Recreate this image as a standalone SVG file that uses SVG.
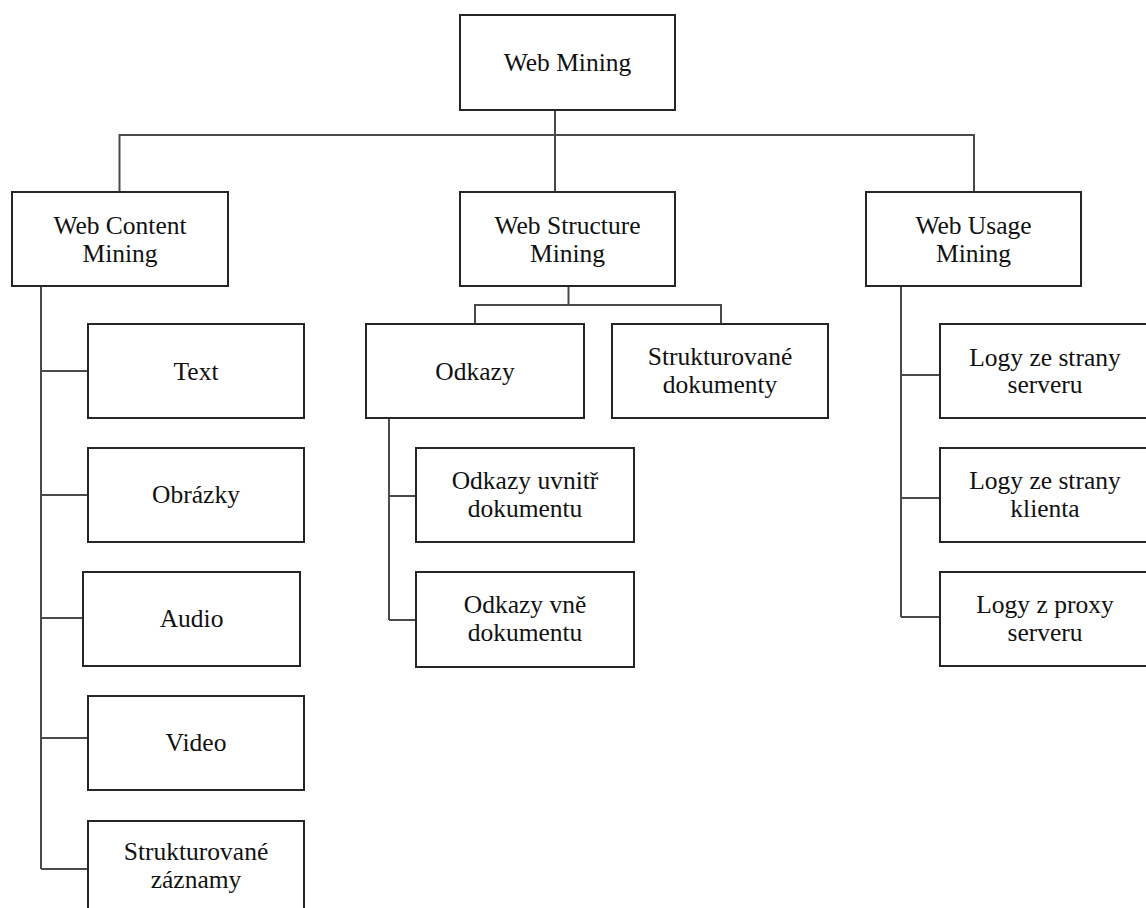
<svg xmlns="http://www.w3.org/2000/svg" width="1146" height="908" viewBox="0 0 1146 908">
  <style>
    .box { fill: #ffffff; stroke: #262626; stroke-width: 2; }
    .lbl { font-family: "Liberation Serif", "Times New Roman", serif; font-size: 25.5px; fill: #111111; text-anchor: middle; }
    .conn { fill: none; stroke: #4a4a4a; stroke-width: 2; }
  </style>
  <rect width="1146" height="908" fill="#ffffff"/>

  <!-- connectors -->
  <g id="connectors" class="conn">
    <path d="M555,110 V192"/>
    <path d="M119.5,192 V135 H974 V192"/>
    <!-- Web Content Mining children -->
    <path d="M41,286 V869"/>
    <path d="M41,371 H88 M41,495 H88 M41,618 H83 M41,738 H88 M41,869 H88"/>
    <!-- Web Structure Mining children -->
    <path d="M568.5,286 V305"/>
    <path d="M475,324 V305 H721 V324"/>
    <path d="M389,418 V620"/>
    <path d="M389,496 H416 M389,620 H416"/>
    <!-- Web Usage Mining children -->
    <path d="M901,286 V617"/>
    <path d="M901,375 H940 M901,498 H940 M901,617 H940"/>
  </g>

  <g id="web-mining">
    <rect class="box" x="460" y="15" width="215" height="95"/>
    <text class="lbl" x="567.5" y="71">Web Mining</text>
  </g>

  <g id="web-content-mining">
    <rect class="box" x="12" y="192" width="216" height="94"/>
    <text class="lbl" x="120" y="234">Web Content</text>
    <text class="lbl" x="120" y="262">Mining</text>
  </g>

  <g id="web-structure-mining">
    <rect class="box" x="460" y="192" width="215" height="94"/>
    <text class="lbl" x="567.5" y="234">Web Structure</text>
    <text class="lbl" x="567.5" y="262">Mining</text>
  </g>

  <g id="web-usage-mining">
    <rect class="box" x="866" y="192" width="215" height="94"/>
    <text class="lbl" x="973.5" y="234">Web Usage</text>
    <text class="lbl" x="973.5" y="262">Mining</text>
  </g>

  <g id="text">
    <rect class="box" x="88" y="324" width="216" height="94"/>
    <text class="lbl" x="196" y="380">Text</text>
  </g>

  <g id="obrazky">
    <rect class="box" x="88" y="448" width="216" height="94"/>
    <text class="lbl" x="196" y="503">Obrázky</text>
  </g>

  <g id="audio">
    <rect class="box" x="83" y="572" width="217" height="94"/>
    <text class="lbl" x="191.5" y="627">Audio</text>
  </g>

  <g id="video">
    <rect class="box" x="88" y="696" width="216" height="94"/>
    <text class="lbl" x="196" y="751">Video</text>
  </g>

  <g id="strukturovane-zaznamy">
    <rect class="box" x="88" y="821" width="216" height="94"/>
    <text class="lbl" x="196" y="860">Strukturované</text>
    <text class="lbl" x="196" y="888">záznamy</text>
  </g>

  <g id="odkazy">
    <rect class="box" x="366" y="324" width="218" height="94"/>
    <text class="lbl" x="475" y="380">Odkazy</text>
  </g>

  <g id="strukturovane-dokumenty">
    <rect class="box" x="612" y="324" width="216" height="94"/>
    <text class="lbl" x="720" y="365">Strukturované</text>
    <text class="lbl" x="720" y="393">dokumenty</text>
  </g>

  <g id="odkazy-uvnitr">
    <rect class="box" x="416" y="448" width="218" height="94"/>
    <text class="lbl" x="525" y="489">Odkazy uvnitř</text>
    <text class="lbl" x="525" y="517">dokumentu</text>
  </g>

  <g id="odkazy-vne">
    <rect class="box" x="416" y="572" width="218" height="95"/>
    <text class="lbl" x="525" y="613">Odkazy vně</text>
    <text class="lbl" x="525" y="641">dokumentu</text>
  </g>

  <g id="logy-server">
    <rect class="box" x="940" y="324" width="210" height="94"/>
    <text class="lbl" x="1045" y="366">Logy ze strany</text>
    <text class="lbl" x="1045" y="393">serveru</text>
  </g>

  <g id="logy-klient">
    <rect class="box" x="940" y="448" width="210" height="94"/>
    <text class="lbl" x="1045" y="489">Logy ze strany</text>
    <text class="lbl" x="1045" y="517">klienta</text>
  </g>

  <g id="logy-proxy">
    <rect class="box" x="940" y="572" width="210" height="94"/>
    <text class="lbl" x="1045" y="613">Logy z proxy</text>
    <text class="lbl" x="1045" y="641">serveru</text>
  </g>
</svg>
